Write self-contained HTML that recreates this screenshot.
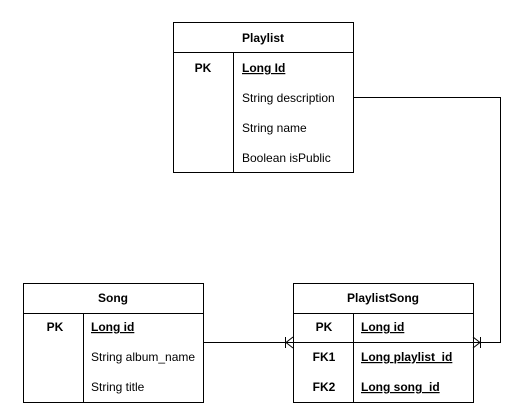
<!DOCTYPE html>
<html><head><style>
html,body{margin:0;padding:0;background:#fff;}
svg text{font-family:"Liberation Sans",Arial,sans-serif;font-size:12px;fill:#000;}
</style></head><body>
<svg width="512" height="403" viewBox="0 0 512 403" xmlns="http://www.w3.org/2000/svg">
<g fill="none" stroke="#000" stroke-width="1">
<rect x="173.5" y="22.5" width="180" height="150"/>
<line x1="173" y1="52.5" x2="354" y2="52.5"/>
<line x1="233.5" y1="52" x2="233.5" y2="172"/>
<rect x="23.5" y="283.5" width="180" height="119"/>
<line x1="23" y1="313.5" x2="204" y2="313.5"/>
<line x1="83.5" y1="313" x2="83.5" y2="403"/>
<rect x="293.5" y="283.5" width="180" height="119"/>
<line x1="293" y1="313.5" x2="474" y2="313.5"/>
<line x1="353.5" y1="313" x2="353.5" y2="403"/>
<polyline points="353,97.5 500.5,97.5 500.5,342.5 473,342.5"/>
<line x1="203" y1="342.5" x2="473" y2="342.5"/>
<line x1="285.5" y1="337" x2="285.5" y2="348"/>
<polyline points="293,337 286,342.5 293,348"/>
<line x1="480.5" y1="337" x2="480.5" y2="348"/>
<polyline points="473,337 480,342.5 473,348"/>
</g>
<g font-weight="bold" text-anchor="middle">
<text x="263" y="42">Playlist</text>
<text x="113" y="302">Song</text>
<text x="383" y="302">PlaylistSong</text>
<text x="203" y="72">PK</text>
<text x="55" y="331">PK</text>
<text x="324" y="331">PK</text>
<text x="324" y="361">FK1</text>
<text x="324" y="391">FK2</text>
</g>
<g font-weight="bold" text-decoration="underline">
<text x="242" y="72">Long Id</text>
<text x="91" y="331">Long id</text>
<text x="361" y="331">Long id</text>
<text x="361" y="361">Long playlist_id</text>
<text x="361" y="391">Long song_id</text>
</g>
<text x="242" y="102">String description</text>
<text x="242" y="132">String name</text>
<text x="242" y="162">Boolean isPublic</text>
<text x="91" y="361">String album_name</text>
<text x="91" y="391">String title</text>
</svg>
</body></html>
